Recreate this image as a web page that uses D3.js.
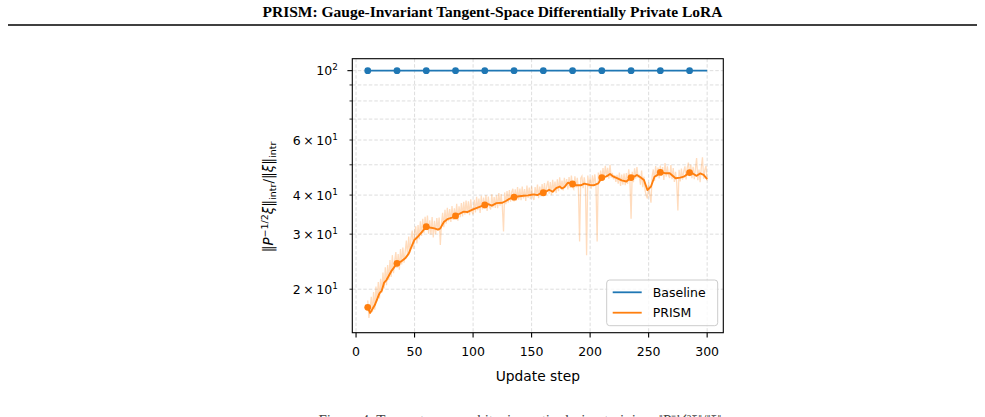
<!DOCTYPE html>
<html>
<head>
<meta charset="utf-8">
<script src="https://cdn.jsdelivr.net/npm/d3@7"></script>
<style>
  body { margin: 0; background: #fff; }
  svg { display: block; }
</style>
</head>
<body>
<script>
// ---- data ----
const xTickValues = [0, 50, 100, 150, 200, 250, 300];

const yTickValues = [20, 30, 40, 60, 100];
const yTickMantissa = ["2", "3", "4", "6", ""];
const yTickExponent = ["1", "1", "1", "1", "2"];
const yMinorValues = [50, 70, 80, 90];

const baselineSteps = [10, 35, 60, 85, 110, 135, 160, 185, 210, 235, 260, 285, 300];
const baselineValues = [100, 100, 100, 100, 100, 100, 100, 100, 100, 100, 100, 100, 100];

const prismSmoothSteps = [
  10, 12, 16, 20, 22, 24, 26, 30, 35, 39,
  42, 45, 48, 50, 53, 56, 60, 63, 67, 70,
  72, 75, 78, 82, 85, 88, 92, 95, 100, 105,
  110, 113, 116, 120, 125, 128, 131, 135, 138, 143,
  147, 150, 152, 155, 157, 160, 163, 165, 168, 171,
  174, 176, 178, 181, 185, 188, 192, 195, 200, 203,
  207, 210, 214, 217, 220, 223, 227, 231, 235, 238,
  240, 243, 246, 249, 252, 255, 258, 260, 264, 268,
  273, 277, 280, 285, 288, 291, 294, 297, 300];
const prismSmoothValues = [
  17.5, 16.8, 17.8, 19.4, 19.8, 21.0, 21.4, 22.8, 24.2, 24.6,
  25.1, 26.0, 27.7, 28.8, 29.5, 30.4, 31.7, 31.5, 31.3, 31.0,
  31.3, 32.8, 33.5, 33.9, 34.3, 34.8, 35.4, 35.3, 36.0, 36.6,
  37.2, 37.4, 37.0, 37.7, 37.8, 38.3, 38.9, 39.4, 39.6, 39.8,
  39.9, 40.1, 40.2, 40.0, 40.4, 40.7, 41.2, 41.6, 41.0, 42.1,
  42.6, 42.0, 42.4, 43.8, 43.4, 43.0, 43.0, 43.5, 43.1, 43.0,
  43.6, 45.5, 45.9, 46.7, 45.8, 45.3, 44.6, 44.2, 45.5, 45.9,
  46.4, 45.6, 44.7, 41.5, 42.6, 45.8, 46.5, 47.3, 47.0, 47.0,
  45.3, 45.5, 45.8, 47.2, 46.8, 46.1, 46.9, 46.4, 45.0];

// raw (unsmoothed) PRISM ratio, one value per step starting at step 10
const prismRawStart = 10;
const prismRawValues = [
  18.4, 16.2, 17.3, 18.9, 16.9, 19.6, 17.2, 20.4, 18.3, 21.1,
  18.7, 21.6, 19.5, 22.6, 20.1, 23.5, 20.6, 23.9, 21.4, 24.8,
  21.9, 25.7, 22.5, 24.6, 26.3, 23.4, 25.9, 23.1, 26.9, 24.0,
  27.2, 24.3, 26.4, 28.6, 25.5, 29.5, 26.1, 29.2, 30.8, 26.9,
  30.2, 31.8, 28.0, 32.1, 28.9, 33.0, 29.6, 33.6, 30.2, 34.1,
  30.9, 34.4, 30.1, 33.2, 29.9, 34.0, 29.3, 33.1, 30.0, 33.8,
  31.0, 33.9, 27.7, 32.5, 35.1, 31.6, 35.9, 32.4, 36.4, 33.0,
  36.1, 32.8, 36.9, 33.3, 36.3, 33.6, 37.5, 33.1, 36.8, 34.0,
  37.7, 34.2, 38.1, 34.6, 38.4, 34.9, 38.2, 34.5, 38.8, 35.4,
  34.7, 38.6, 35.2, 39.5, 35.8, 39.0, 35.1, 39.8, 36.0, 39.3,
  36.2, 40.0, 35.6, 39.6, 36.7, 36.0, 40.2, 36.5, 39.4, 36.4,
  39.9, 36.3, 40.6, 37.0, 40.3, 36.8, 30.6, 40.8, 37.4, 41.2,
  37.8, 41.5, 38.1, 40.9, 41.9, 38.2, 41.7, 38.4, 42.4, 38.7,
  42.0, 38.5, 42.6, 39.0, 41.8, 38.3, 42.9, 39.2, 42.3, 38.8,
  42.7, 39.4, 38.6, 42.4, 39.7, 43.2, 39.1, 42.6, 39.6, 43.4,
  40.1, 43.7, 39.8, 42.9, 44.4, 40.4, 44.0, 40.0, 44.8, 41.1,
  44.2, 40.6, 44.9, 41.2, 45.6, 41.9, 44.5, 41.4, 45.4, 42.4,
  45.0, 41.7, 45.7, 42.2, 46.2, 42.5, 41.8, 45.9, 42.3, 45.4,
  42.0, 28.4, 45.3, 46.0, 42.1, 45.6, 42.7, 25.7, 46.2, 42.6,
  45.5, 41.9, 46.3, 42.8, 46.6, 43.2, 28.4, 47.2, 43.8, 47.9,
  44.5, 48.8, 45.2, 49.6, 46.0, 48.9, 45.1, 50.0, 45.5, 47.1,
  44.9, 46.3, 44.1, 46.4, 43.5, 47.2, 42.8, 46.5, 43.2, 46.9,
  43.0, 47.0, 43.4, 48.4, 44.5, 33.6, 47.5, 44.0, 48.7, 45.1,
  49.2, 45.4, 46.5, 43.2, 47.9, 42.4, 45.8, 41.3, 39.8, 39.0,
  43.9, 40.2, 37.8, 46.0, 48.3, 44.4, 49.5, 45.6, 49.0, 45.2,
  49.7, 46.1, 49.2, 44.7, 50.6, 45.8, 49.4, 46.3, 45.4, 49.9,
  45.0, 48.8, 44.1, 47.5, 43.8, 35.7, 48.2, 44.2, 48.6, 44.8,
  47.7, 49.4, 44.9, 48.9, 50.8, 46.0, 50.1, 45.3, 49.3, 45.0,
  48.6, 52.5, 44.6, 48.3, 44.0, 49.0, 52.8, 45.1, 48.1, 49.6,
  44.5
];

const markerStart = 10;
const markerEvery = 25;

const legendLabels = ["Baseline", "PRISM"];
const seriesColors = ["#1f77b4", "#ff7f0e"];

// ---- layout ----
const width = 985, height = 417;
const frame = { left: 352.3, right: 723.3, top: 58.7, bottom: 332.7 };

const svg = d3.select("body").append("svg")
  .attr("width", width)
  .attr("height", height)
  .attr("viewBox", [0, 0, width, height]);

// page header
svg.append("text")
  .attr("x", 492.5).attr("y", 17)
  .attr("text-anchor", "middle")
  .attr("font-family", "'Liberation Serif', 'Times New Roman', serif")
  .attr("font-weight", "bold")
  .attr("font-size", 15.5)
  .text("PRISM: Gauge-Invariant Tangent-Space Differentially Private LoRA");

svg.append("line")
  .attr("x1", 8).attr("x2", 977)
  .attr("y1", 25).attr("y2", 25)
  .attr("stroke", "#000").attr("stroke-width", 1.6);

const x = d3.scaleLinear().domain([-3.2, 313.8]).range([frame.left, frame.right]);
const y = d3.scaleLog().domain([14.52, 109.2]).range([frame.bottom, frame.top]);

const plot = svg.append("g");

// grid
const gridColor = "#d4d4d4";
plot.selectAll(".vgrid").data(xTickValues).join("line")
  .attr("x1", d => x(d)).attr("x2", d => x(d))
  .attr("y1", frame.top).attr("y2", frame.bottom)
  .attr("stroke", gridColor).attr("stroke-width", 0.8)
  .attr("stroke-dasharray", "3.5,2");

plot.selectAll(".hgrid").data(yTickValues.concat(yMinorValues)).join("line")
  .attr("x1", frame.left).attr("x2", frame.right)
  .attr("y1", d => y(d)).attr("y2", d => y(d))
  .attr("stroke", gridColor).attr("stroke-width", 0.8)
  .attr("stroke-dasharray", "3.5,2");

// clip
svg.append("clipPath").attr("id", "clip")
  .append("rect")
  .attr("x", frame.left).attr("y", frame.top)
  .attr("width", frame.right - frame.left)
  .attr("height", frame.bottom - frame.top);

const series = plot.append("g").attr("clip-path", "url(#clip)");

// raw PRISM trace
const rawLine = d3.line()
  .x((d, i) => x(prismRawStart + i))
  .y(d => y(d));

series.append("path")
  .datum(prismRawValues)
  .attr("d", rawLine)
  .attr("fill", "none")
  .attr("stroke", seriesColors[1])
  .attr("stroke-opacity", 0.27)
  .attr("stroke-width", 1.3);

// baseline
const baseData = baselineSteps.map((s, i) => ({ s: s, v: baselineValues[i] }));
const smoothData = prismSmoothSteps.map((s, i) => ({ s: s, v: prismSmoothValues[i] }));

const line = d3.line().x(d => x(d.s)).y(d => y(d.v));

series.append("path")
  .datum(baseData)
  .attr("d", line)
  .attr("fill", "none")
  .attr("stroke", seriesColors[0])
  .attr("stroke-width", 1.8);

series.selectAll(".bmark")
  .data(baseData.filter(d => (d.s - markerStart) % markerEvery === 0))
  .join("circle")
  .attr("cx", d => x(d.s)).attr("cy", d => y(d.v))
  .attr("r", 3.4)
  .attr("fill", seriesColors[0]);

series.append("path")
  .datum(smoothData)
  .attr("d", line)
  .attr("fill", "none")
  .attr("stroke", seriesColors[1])
  .attr("stroke-width", 1.9)
  .attr("stroke-linejoin", "round");

series.selectAll(".pmark")
  .data(smoothData.filter(d => (d.s - markerStart) % markerEvery === 0))
  .join("circle")
  .attr("cx", d => x(d.s)).attr("cy", d => y(d.v))
  .attr("r", 3.4)
  .attr("fill", seriesColors[1]);

// frame
plot.append("rect")
  .attr("x", frame.left).attr("y", frame.top)
  .attr("width", frame.right - frame.left)
  .attr("height", frame.bottom - frame.top)
  .attr("fill", "none")
  .attr("stroke", "#000")
  .attr("stroke-width", 1.1);

const tickFont = "'DejaVu Sans', sans-serif";

// x axis ticks
const xAxis = plot.append("g");
xAxis.selectAll("line").data(xTickValues).join("line")
  .attr("x1", d => x(d)).attr("x2", d => x(d))
  .attr("y1", frame.bottom).attr("y2", frame.bottom + 4.9)
  .attr("stroke", "#000").attr("stroke-width", 1.1);
xAxis.selectAll("text").data(xTickValues).join("text")
  .attr("x", d => x(d)).attr("y", frame.bottom + 23.5)
  .attr("text-anchor", "middle")
  .attr("font-family", tickFont).attr("font-size", 12.5)
  .text(d => d);

svg.append("text")
  .attr("x", (frame.left + frame.right) / 2).attr("y", 381)
  .attr("text-anchor", "middle")
  .attr("font-family", tickFont).attr("font-size", 13.8)
  .text("Update step");

// y axis ticks (log): major at 10^2, minor elsewhere
const yAxis = plot.append("g");
yAxis.selectAll(".ymaj").data([100]).join("line")
  .attr("x1", frame.left - 4.9).attr("x2", frame.left)
  .attr("y1", d => y(d)).attr("y2", d => y(d))
  .attr("stroke", "#000").attr("stroke-width", 1.1);
yAxis.selectAll(".ymin").data(yTickValues.filter(v => v !== 100).concat(yMinorValues)).join("line")
  .attr("x1", frame.left - 2.8).attr("x2", frame.left)
  .attr("y1", d => y(d)).attr("y2", d => y(d))
  .attr("stroke", "#000").attr("stroke-width", 0.8);

const yLab = yAxis.selectAll(".ylab").data(yTickValues).join("text")
  .attr("x", frame.left - 14.5)
  .attr("y", d => y(d) + 4.5)
  .attr("text-anchor", "end")
  .attr("font-family", tickFont).attr("font-size", 12.5);
yLab.each(function(d, i) {
  const t = d3.select(this);
  const m = yTickMantissa[i];
  t.append("tspan").text(m ? m + "\u2009\u00d7\u200910" : "10");
  t.append("tspan")
    .attr("dy", -5).attr("font-size", 8.8)
    .text(yTickExponent[i]);
});

// y label: ||P^{-1/2} xi||_intr / ||xi||_intr
const yl = svg.append("text")
  .attr("transform", "translate(273,197) rotate(-90)")
  .attr("text-anchor", "middle")
  .attr("font-family", tickFont).attr("font-size", 13.5);
yl.append("tspan").text("\u2016");
yl.append("tspan").attr("font-style", "italic").text("P");
yl.append("tspan").attr("dy", -5).attr("font-size", 9.5).text("\u22121/2");
yl.append("tspan").attr("dy", 5).attr("font-style", "italic").text("\u03be");
yl.append("tspan").text("\u2016");
yl.append("tspan").attr("dy", 3).attr("font-size", 9.5).text("intr");
yl.append("tspan").attr("dy", -3).text("/\u2016");
yl.append("tspan").attr("font-style", "italic").text("\u03be");
yl.append("tspan").text("\u2016");
yl.append("tspan").attr("dy", 3).attr("font-size", 9.5).text("intr");

// legend
const lg = svg.append("g").attr("transform", "translate(606.7,280)");
lg.append("rect")
  .attr("width", 111).attr("height", 45.7)
  .attr("rx", 3)
  .attr("fill", "#fff").attr("fill-opacity", 0.8)
  .attr("stroke", "#cccccc").attr("stroke-width", 1);
const items = lg.selectAll(".item").data(legendLabels).join("g")
  .attr("transform", (d, i) => `translate(0,${12.3 + i * 20.4})`);
items.append("line")
  .attr("x1", 6).attr("x2", 35)
  .attr("stroke", (d, i) => seriesColors[i])
  .attr("stroke-width", 1.8);
items.append("text")
  .attr("x", 46).attr("y", 4.6)
  .attr("font-family", tickFont).attr("font-size", 12.5)
  .text(d => d);

// caption, mostly below the visible page edge (as in the source page)
svg.append("text")
  .attr("x", 520).attr("y", 425)
  .attr("text-anchor", "middle")
  .attr("font-family", "'Liberation Serif', 'Times New Roman', serif")
  .attr("font-size", 15)
  .attr("fill", "#444")
  .text("Figure 4. Tangent-space whitening ratio during training: \u2016P\u207b\u00b9\u141f\u00b2\u03be\u2016/\u2016\u03be\u2016");
</script>
</body>
</html>
